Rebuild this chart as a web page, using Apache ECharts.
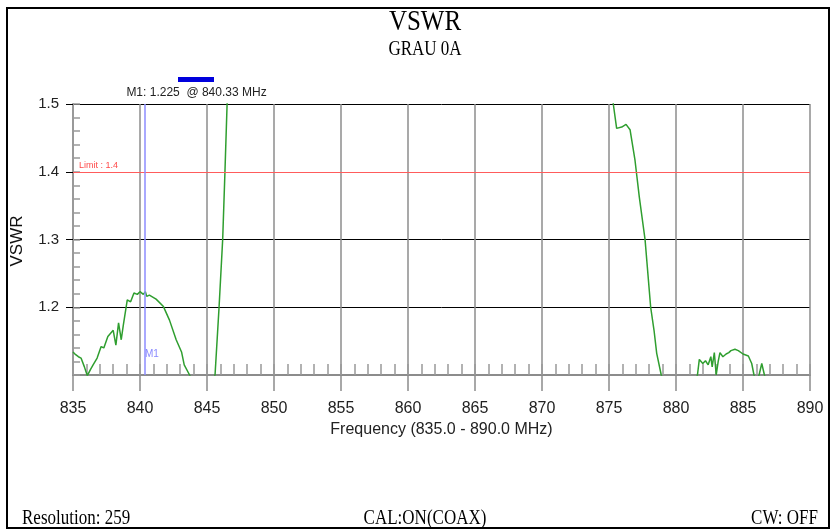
<!DOCTYPE html>
<html>
<head>
<meta charset="utf-8">
<script src="https://cdn.jsdelivr.net/npm/echarts@6/dist/echarts.min.js"></script>
<style>html,body{margin:0;padding:0;background:#fff;}#c{width:831px;height:531px;}</style>
</head>
<body>
<div id="c"></div>
<script>
// ---- data ----
const chartTitle = 'VSWR';
const chartSubtitle = 'GRAU 0A';
const xAxisName = 'Frequency (835.0 - 890.0 MHz)';
const yAxisName = 'VSWR';
const xMin = 835, xMax = 890, xStep = 5;
const yMin = 1.1, yMax = 1.5, yStep = 0.1;
const yTickLabels = [1.2, 1.3, 1.4, 1.5];
const limitValue = 1.4;
const markerFreq = 840.33;
const markerValue = 1.225;
const footerTexts = ['Resolution: 259', 'CAL:ON(COAX)', 'CW: OFF'];

const freq = [
  835.0, 835.2, 835.4, 835.6, 835.85, 836.07, 836.3, 836.5, 836.8, 837.1,
  837.3, 837.6, 838.0, 838.2, 838.4, 838.6, 838.75, 839.05, 839.3, 839.55,
  839.8, 840.0, 840.25, 840.4, 840.5, 840.7, 841.2, 841.75, 842.2, 842.7,
  843.1, 843.3, 843.7, 844.2, 845.0, 845.6, 845.9, 846.17, 846.34, 846.5,
  847.0, 855.0, 865.0, 874.5, 875.32, 875.57, 875.95, 876.27, 876.57, 876.94,
  877.26, 877.69, 878.11, 878.36, 878.56, 878.9, 879.5, 881.0, 881.6, 881.74,
  882.0, 882.2, 882.4, 882.6, 882.7, 882.86, 883.0, 883.15, 883.28, 883.5,
  883.74, 883.94, 884.1, 884.4, 884.65, 885.0, 885.4, 885.65, 885.82, 886.0,
  886.2, 886.4, 886.6, 887.0, 890.0
];
const vswr = [
  1.134, 1.130, 1.127, 1.125, 1.112, 1.099, 1.108, 1.115, 1.125, 1.142,
  1.140, 1.157, 1.166, 1.144, 1.177, 1.152, 1.173, 1.211, 1.208, 1.221,
  1.219, 1.223, 1.219, 1.223, 1.216, 1.218, 1.212, 1.201, 1.181, 1.152,
  1.134, 1.115, 1.100, 1.080, 1.070, 1.100, 1.200, 1.300, 1.400, 1.500,
  1.750, 2.600, 2.400, 1.700, 1.500, 1.464, 1.466, 1.470, 1.462, 1.417,
  1.363, 1.300, 1.200, 1.166, 1.132, 1.100, 1.070, 1.070, 1.100, 1.123,
  1.117, 1.121, 1.115, 1.127, 1.112, 1.133, 1.100, 1.120, 1.133, 1.127,
  1.131, 1.133, 1.136, 1.138, 1.136, 1.131, 1.128, 1.117, 1.100, 1.090,
  1.100, 1.117, 1.100, 1.080, 1.070
];

const chart = echarts.init(document.getElementById('c'), null, {renderer: 'canvas'});
const sans = '"Liberation Sans", Arial, sans-serif';
const serif = '"Liberation Serif", "Times New Roman", serif';
const gridGray = '#8c8c8c';

const option = {
  backgroundColor: '#ffffff',
  animation: false,
  grid: {left: 73, right: 21, top: 104, bottom: 156, containLabel: false},
  xAxis: [
    {
      type: 'value', min: xMin, max: xMax, interval: xStep, position: 'bottom',
      name: xAxisName, nameLocation: 'middle', nameGap: 46,
      nameTextStyle: {fontSize: 16, color: '#222', fontFamily: sans},
      axisLine: {show: true, lineStyle: {color: gridGray, width: 2}},
      axisTick: {show: true, inside: false, length: 16, lineStyle: {color: gridGray, width: 1.5}},
      axisLabel: {margin: 26, fontSize: 16, color: '#222', fontFamily: sans},
      splitLine: {show: true, lineStyle: {color: gridGray, width: 1.5}}
    },
    {
      type: 'value', min: xMin, max: xMax, interval: 1, position: 'bottom', offset: 0,
      axisLine: {show: false},
      axisTick: {show: true, inside: true, length: 11, lineStyle: {color: '#999', width: 1.5}},
      axisLabel: {show: false},
      splitLine: {show: false}
    }
  ],
  yAxis: [
    {
      type: 'value', min: yMin, max: yMax, interval: yStep, position: 'left',
      axisLine: {show: true, lineStyle: {color: '#999', width: 2}},
      axisTick: {show: true, inside: false, length: 7, customValues: yTickLabels, lineStyle: {color: '#000', width: 1}},
      axisLabel: {margin: 14, fontSize: 15, color: '#222', fontFamily: sans,
        customValues: yTickLabels, formatter: v => Number(v).toFixed(1)},
      splitLine: {show: true, lineStyle: {color: '#000', width: 1}}
    },
    {
      type: 'value', min: yMin, max: yMax, interval: yStep, position: 'left', offset: 0,
      axisLine: {show: false},
      axisTick: {show: true, inside: true, length: 7, lineStyle: {color: '#999', width: 1.5}},
      minorTick: {show: true, splitNumber: 5, length: 7, lineStyle: {color: '#999', width: 1.5}},
      axisLabel: {show: false},
      splitLine: {show: false}
    }
  ],
  series: [
    {
      type: 'line', xAxisIndex: 0, yAxisIndex: 0,
      data: freq.map((f, i) => [f, vswr[i]]),
      showSymbol: false, symbol: 'none', clip: true, smooth: false,
      lineStyle: {color: '#2f9e2f', width: 1.5},
      z: 3,
      markLine: {
        silent: true, symbol: ['none', 'none'], animation: false,
        data: [
          {yAxis: limitValue,
           lineStyle: {color: '#ff5c5c', width: 1.2, type: 'solid'},
           label: {show: true, position: 'insideStartTop', formatter: 'Limit : ' + limitValue,
                   color: '#ff4a4a', fontSize: 9, fontFamily: sans, distance: [6, 2]}},
          {xAxis: markerFreq,
           lineStyle: {color: '#8c8cff', width: 1.5, type: 'solid'},
           label: {show: false}}
        ]
      }
    },
    {
      type: 'scatter', xAxisIndex: 0, yAxisIndex: 0, clip: false,
      data: [[markerFreq, yMin]],
      symbol: 'rect', symbolSize: 1, itemStyle: {color: 'rgba(0,0,0,0)'},
      label: {show: true, formatter: 'M1', position: [1, -25], color: '#6a6aff', fontSize: 10, fontFamily: sans},
      silent: true, z: 4
    }
  ],
  graphic: [
    {type: 'rect', shape: {x: 7, y: 8, width: 822, height: 520}, style: {fill: 'none', stroke: '#000', lineWidth: 2}},
    {type: 'rect', shape: {x: 178, y: 77, width: 36, height: 5}, style: {fill: '#0000dd'}},
    {type: 'text', x: 425, y: 22, scaleY: 1.2,
     style: {text: chartTitle, font: '25px ' + serif, fill: '#000', textAlign: 'center', textVerticalAlign: 'middle'}},
    {type: 'text', x: 425, y: 49.5, scaleY: 1.25,
     style: {text: chartSubtitle, font: '17px ' + serif, fill: '#000', textAlign: 'center', textVerticalAlign: 'middle'}},
    {type: 'text', x: 196.5, y: 93,
     style: {text: 'M1: ' + markerValue.toFixed(3) + '  @ ' + markerFreq.toFixed(2) + ' MHz', font: '12px ' + sans, fill: '#222', textAlign: 'center', textVerticalAlign: 'middle'}},
    {type: 'text', x: 17, y: 241, rotation: Math.PI / 2,
     style: {text: yAxisName, font: '17px ' + sans, fill: '#111', textAlign: 'center', textVerticalAlign: 'middle'}},
    {type: 'text', x: 22, y: 519, scaleY: 1.2,
     style: {text: footerTexts[0], font: '17px ' + serif, fill: '#000', textAlign: 'left', textVerticalAlign: 'middle'}},
    {type: 'text', x: 425, y: 519, scaleY: 1.2,
     style: {text: footerTexts[1], font: '17px ' + serif, fill: '#000', textAlign: 'center', textVerticalAlign: 'middle'}},
    {type: 'text', x: 818, y: 519, scaleY: 1.2,
     style: {text: footerTexts[2], font: '17px ' + serif, fill: '#000', textAlign: 'right', textVerticalAlign: 'middle'}}
  ]
};
chart.setOption(option);
</script>
</body>
</html>
